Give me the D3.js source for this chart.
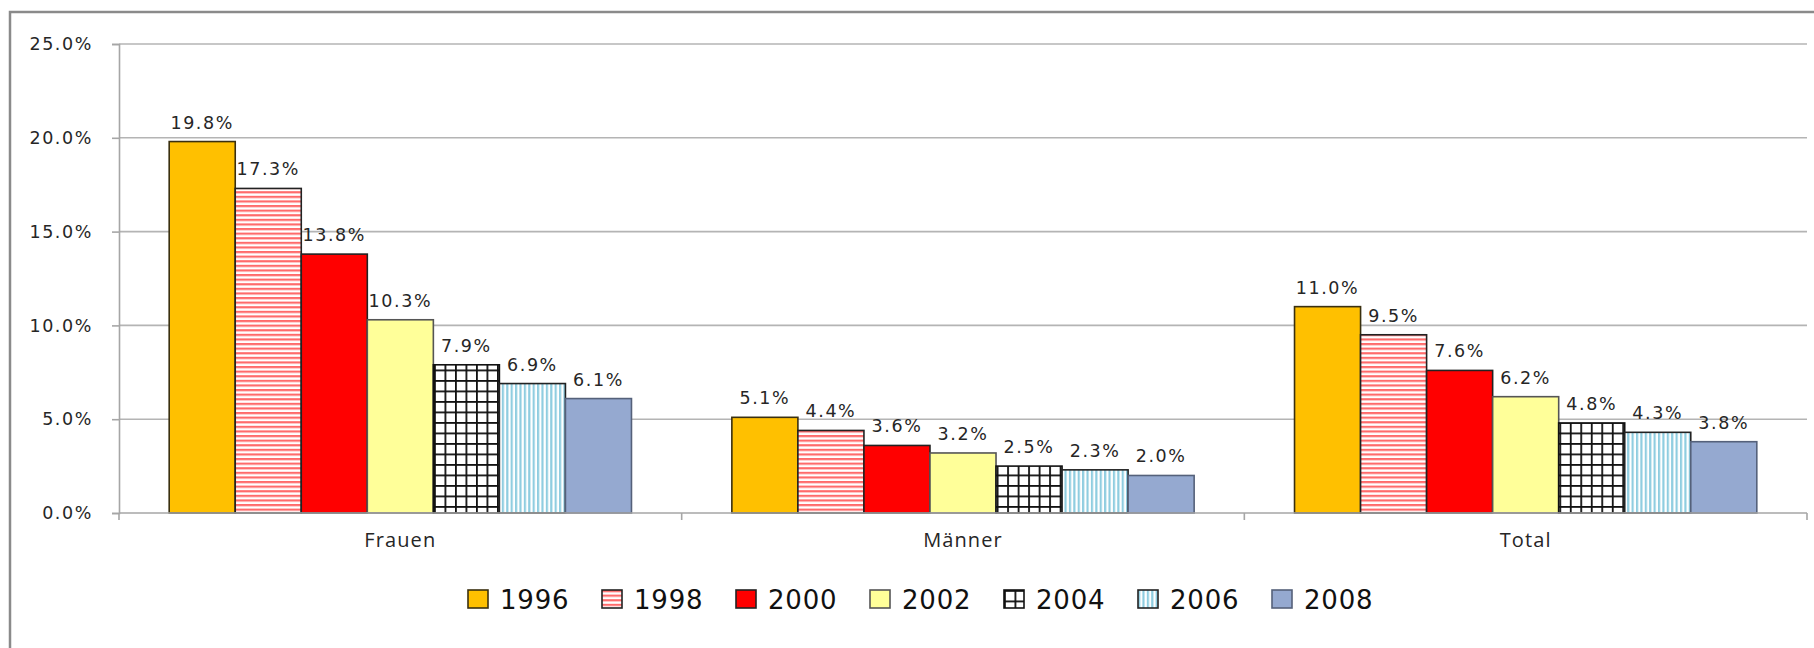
<!DOCTYPE html>
<html>
<head>
<meta charset="utf-8">
<script src="https://cdn.jsdelivr.net/npm/d3@7"></script>
<style>
  body { margin: 0; background: #fff; }
  svg { display: block; }
</style>
</head>
<body>
<svg width="1814" height="648"></svg>
<script>
// categories and series (one array per year, values in %)
var categories = ["Frauen", "Männer", "Total"];
var years = ["1996", "1998", "2000", "2002", "2004", "2006", "2008"];
var values1996 = [19.8, 5.1, 11.0];
var values1998 = [17.3, 4.4, 9.5];
var values2000 = [13.8, 3.6, 7.6];
var values2002 = [10.3, 3.2, 6.2];
var values2004 = [7.9, 2.5, 4.8];
var values2006 = [6.9, 2.3, 4.3];
var values2008 = [6.1, 2.0, 3.8];
var yTicks = [0, 5, 10, 15, 20, 25];

var series = [values1996, values1998, values2000, values2002, values2004, values2006, values2008];

var svg = d3.select("svg"),
	margin = {top: 44, right: 7, bottom: 135, left: 119},
	width = +svg.attr("width") - margin.left - margin.right,
	height = +svg.attr("height") - margin.top - margin.bottom;

// patterns for the hatched years
var defs = svg.append("defs");

var pHoriz = defs.append("pattern").attr("id", "p1998")
	.attr("patternUnits", "userSpaceOnUse").attr("width", 8).attr("height", 4.6);
pHoriz.append("rect").attr("width", 8).attr("height", 4.6).attr("fill", "#ffffff");
pHoriz.append("rect").attr("y", 0).attr("width", 8).attr("height", 2.2).attr("fill", "#ff6b6b");

var pGrid = defs.append("pattern").attr("id", "p2004")
	.attr("patternUnits", "userSpaceOnUse").attr("width", 10.5).attr("height", 10.5);
pGrid.append("rect").attr("width", 10.5).attr("height", 10.5).attr("fill", "#ffffff");
pGrid.append("rect").attr("width", 1.8).attr("height", 10.5).attr("fill", "#111");
pGrid.append("rect").attr("width", 10.5).attr("height", 1.8).attr("fill", "#111");

var pVert = defs.append("pattern").attr("id", "p2006")
	.attr("patternUnits", "userSpaceOnUse").attr("width", 4.4).attr("height", 8);
pVert.append("rect").attr("width", 4.4).attr("height", 8).attr("fill", "#ffffff");
pVert.append("rect").attr("x", 0).attr("width", 2.2).attr("height", 8).attr("fill", "#8fcde0");

var fills = {
	"1996": "#ffc000",
	"1998": "url(#p1998)",
	"2000": "#ff0000",
	"2002": "#ffff99",
	"2004": "url(#p2004)",
	"2006": "url(#p2006)",
	"2008": "#95a9d0"
};
var strokes = {
	"1996": "#3a3010", "1998": "#222", "2000": "#222", "2002": "#555",
	"2004": "#111", "2006": "#222", "2008": "#55617a"
};

// outer chart border (only left and top are in view)
svg.append("rect")
	.attr("x", 10).attr("y", 12)
	.attr("width", 1900).attr("height", 800)
	.attr("fill", "none")
	.attr("stroke", "#8a8a8a")
	.attr("stroke-width", 2.5);

var g = svg.append("g").attr("transform", "translate(" + margin.left + "," + margin.top + ")");

var x0 = d3.scaleBand().domain(categories).range([0, width]).paddingInner(0).paddingOuter(0);
var gap = x0.bandwidth() / (years.length + 1.52) * 1.52;
var x1 = d3.scaleBand().domain(years).range([gap / 2, x0.bandwidth() - gap / 2]).padding(0);
var y = d3.scaleLinear().domain([0, 25]).range([height, 0]);

// gridlines
g.append("g")
	.selectAll("line")
	.data(yTicks.slice(1))
	.enter().append("line")
		.attr("x1", 0).attr("x2", width)
		.attr("y1", function(d) { return y(d); })
		.attr("y2", function(d) { return y(d); })
		.attr("stroke", "#b4b4b4")
		.attr("stroke-width", 1.6);

// y axis
var yAxis = g.append("g")
	.call(d3.axisLeft(y).tickValues(yTicks).tickSize(7).tickPadding(19)
		.tickFormat(function(d) { return d3.format(".1f")(d) + "%"; }));
yAxis.select(".domain").attr("stroke", "#a6a6a6").attr("stroke-width", 1.6);
yAxis.selectAll(".tick line").attr("stroke", "#a6a6a6").attr("stroke-width", 1.6);
yAxis.selectAll(".tick text")
	.attr("font-family", "DejaVu Sans")
	.attr("font-size", 17.5)
	.attr("letter-spacing", 1.6)
	.attr("fill", "#262626");

// bars
var groups = g.append("g")
	.selectAll("g")
	.data(categories)
	.enter().append("g")
		.attr("transform", function(d) { return "translate(" + x0(d) + ",0)"; });

var cells = groups.selectAll("g")
	.data(function(c, ci) { return years.map(function(yr, yi) { return {year: yr, value: series[yi][ci]}; }); })
	.enter().append("g");

cells.append("rect")
	.attr("x", function(d) { return x1(d.year); })
	.attr("y", function(d) { return y(d.value); })
	.attr("width", x1.bandwidth())
	.attr("height", function(d) { return height - y(d.value); })
	.attr("fill", function(d) { return fills[d.year]; })
	.attr("stroke", function(d) { return strokes[d.year]; })
	.attr("stroke-width", 1.6);

cells.append("text")
	.attr("x", function(d) { return x1(d.year) + x1.bandwidth() / 2; })
	.attr("y", function(d) { return y(d.value) - 13; })
	.attr("text-anchor", "middle")
	.attr("font-family", "DejaVu Sans")
	.attr("font-size", 17.5)
	.attr("letter-spacing", 1.6)
	.attr("fill", "#262626")
	.text(function(d) { return d3.format(".1f")(d.value) + "%"; });

// x axis: line with ticks at category boundaries
var xAxis = g.append("g").attr("transform", "translate(0," + height + ")");
xAxis.append("line")
	.attr("x1", 0).attr("x2", width)
	.attr("stroke", "#a6a6a6").attr("stroke-width", 1.6);
xAxis.selectAll(".bound")
	.data(categories.map(function(c) { return x0(c); }).concat([width]))
	.enter().append("line")
		.attr("x1", function(d) { return d; }).attr("x2", function(d) { return d; })
		.attr("y1", 0).attr("y2", 7)
		.attr("stroke", "#a6a6a6").attr("stroke-width", 1.6);
xAxis.selectAll(".cat")
	.data(categories)
	.enter().append("text")
		.attr("x", function(d) { return x0(d) + x0.bandwidth() / 2; })
		.attr("y", 34)
		.attr("text-anchor", "middle")
		.attr("font-family", "Open Sans")
		.attr("font-size", 20)
		.attr("letter-spacing", 1.1)
		.attr("fill", "#262626")
		.text(function(d) { return d; });

// legend
var legend = svg.append("g")
	.attr("transform", "translate(468,590)")
	.selectAll("g")
	.data(years)
	.enter().append("g")
		.attr("transform", function(d, i) { return "translate(" + i * 134 + ",0)"; });

legend.append("rect")
	.attr("width", 20)
	.attr("height", 18)
	.attr("fill", function(d) { return fills[d]; })
	.attr("stroke", function(d) { return strokes[d]; })
	.attr("stroke-width", 1.6);

legend.append("text")
	.attr("x", 32)
	.attr("y", 19)
	.attr("font-family", "DejaVu Sans")
	.attr("font-size", 26)
	.attr("letter-spacing", 0.8)
	.attr("fill", "#111")
	.text(function(d) { return d; });
</script>
</body>
</html>
